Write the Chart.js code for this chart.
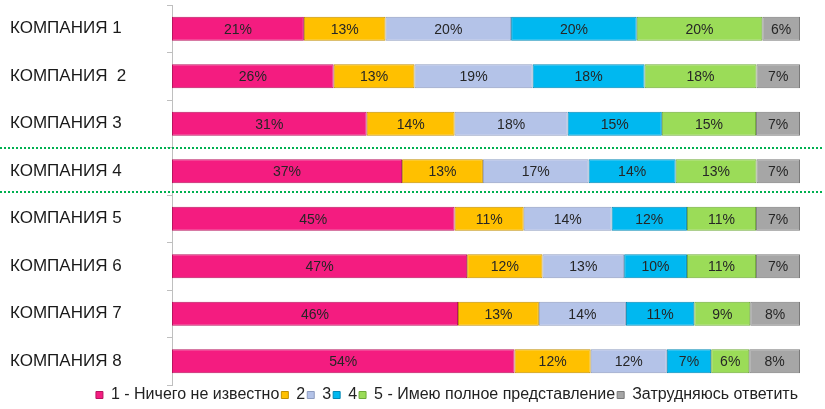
<!DOCTYPE html>
<html>
<head>
    <title>Companies</title>
    <style>
        body { margin: 0; background: #fff; }
        #wrap { width: 825px; height: 409px; position: relative; }
    </style>
</head>
<body>
    <div id="wrap"><canvas id="chart"></canvas></div>

    <script src="https://cdn.jsdelivr.net/npm/chart.js"></script>
    <script>
        const companies = ['КОМПАНИЯ 1', 'КОМПАНИЯ  2', 'КОМПАНИЯ 3', 'КОМПАНИЯ 4',
                           'КОМПАНИЯ 5', 'КОМПАНИЯ 6', 'КОМПАНИЯ 7', 'КОМПАНИЯ 8'];
        const answerNames = ['1 - Ничего не известно', '2', '3', '4',
                             '5 - Имею полное представление', 'Затрудняюсь ответить'];
        const score1 = [21, 26, 31, 37, 45, 47, 46, 54];
        const score2 = [13, 13, 14, 13, 11, 12, 13, 12];
        const score3 = [20, 19, 18, 17, 14, 13, 14, 12];
        const score4 = [20, 18, 15, 14, 12, 10, 11, 7];
        const score5 = [20, 18, 15, 13, 11, 11, 9, 6];
        const noAnswer = [6, 7, 7, 7, 7, 7, 8, 8];

        const fills = ['#F41C80', '#FFC000', '#B4C3E8', '#00B8F0', '#9BDC58', '#A6A6A6'];
        const edges = ['#B8145F', '#C28F00', '#8E9CC0', '#0088B5', '#6FAA38', '#7A7A7A'];

        // 100% stacked: each row is scaled to its own total, labels keep the raw value
        const series = [score1, score2, score3, score4, score5, noAnswer];
        const totals = companies.map((c, i) => series.reduce((s, arr) => s + arr[i], 0));

        const datasets = series.map((arr, k) => ({
            label: answerNames[k],
            raw: arr,
            data: arr.map((v, i) => v / totals[i] * 100),
            backgroundColor: fills[k],
            borderColor: edges[k],
            borderWidth: 1,
            borderSkipped: false,
            categoryPercentage: 1,
            barPercentage: 0.51
        }));

        const valueLabels = {
            id: 'valueLabels',
            afterDatasetsDraw(chart) {
                const ctx = chart.ctx;
                ctx.save();
                ctx.font = '14px "Liberation Sans"';
                ctx.fillStyle = '#262626';
                ctx.textAlign = 'center';
                ctx.textBaseline = 'middle';
                chart.data.datasets.forEach((ds, k) => {
                    chart.getDatasetMeta(k).data.forEach((bar, i) => {
                        const p = bar.getProps(['x', 'y', 'base'], true);
                        ctx.fillText(ds.raw[i] + '%', (p.x + p.base) / 2, p.y + 1);
                    });
                });
                ctx.restore();
            }
        };

        // dotted green frame around company 4
        const highlight = {
            id: 'highlight',
            afterDraw(chart) {
                const y = chart.scales.y;
                const ctx = chart.ctx;
                const lines = [y.getPixelForValue(2.5), y.getPixelForValue(3.43)];
                ctx.save();
                ctx.strokeStyle = '#00B050';
                ctx.lineWidth = 2;
                ctx.setLineDash([2, 2]);
                lines.forEach(py => {
                    ctx.beginPath();
                    ctx.moveTo(0, Math.round(py));
                    ctx.lineTo(822, Math.round(py));
                    ctx.stroke();
                });
                ctx.restore();
            }
        };

        new Chart(document.getElementById('chart'), {
            type: 'bar',
            data: { labels: companies, datasets: datasets },
            plugins: [valueLabels, highlight],
            options: {
                indexAxis: 'y',
                responsive: true,
                maintainAspectRatio: false,
                animation: false,
                layout: { padding: { top: 5, right: 25, bottom: -4, left: 10 } },
                plugins: {
                    tooltip: { enabled: false },
                    legend: {
                        position: 'bottom',
                        align: 'end',
                        labels: {
                            font: { family: '"Liberation Sans"', size: 16 },
                            color: '#222',
                            boxWidth: 7,
                            boxHeight: 7,
                            padding: 2
                        }
                    }
                },
                scales: {
                    x: {
                        stacked: true,
                        min: 0,
                        max: 100,
                        display: false
                    },
                    y: {
                        stacked: true,
                        afterFit(scale) {
                            scale.width = 162;
                            scale.paddingTop = 0;
                            scale.paddingBottom = 0;
                        },
                        border: { display: true, color: '#BFBFBF', width: 1 },
                        grid: { drawOnChartArea: false, tickLength: 5, color: '#BFBFBF', offset: true },
                        ticks: {
                            crossAlign: 'far',
                            padding: 3,
                            color: '#1a1a1a',
                            font: { family: '"Liberation Sans"', size: 17 }
                        }
                    }
                }
            }
        });
    </script>
</body>
</html>
